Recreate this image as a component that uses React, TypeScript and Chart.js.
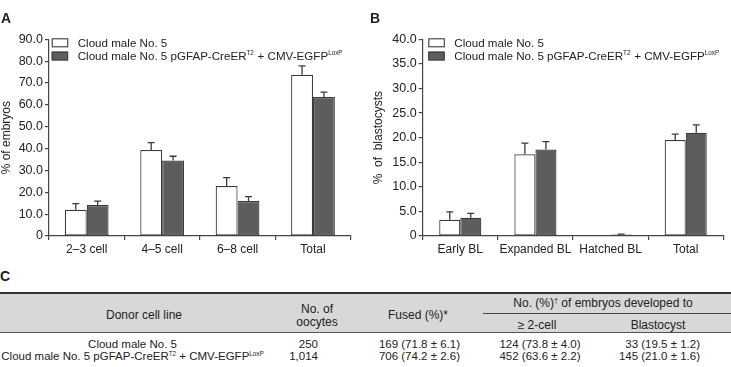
import React, { useEffect, useRef } from "react";
import { Chart, registerables } from "chart.js";

Chart.register(...registerables);

const FONT = '"Liberation Sans", Arial, Helvetica, sans-serif';
const INK = "#222222";
const AXIS = "#454545";
const OPEN_FILL = "#ffffff";
const DARK_FILL = "#5d5d5d";
const BAR_EDGE = "#3a3a3a";
const HEADER_BG = "#d8d8d8";

// ---- Panel A: developmental stage reached (% of embryos) ----
const stagesA = ["2–3 cell", "4–5 cell", "6–8 cell", "Total"];
const controlA = [12.0, 39.3, 22.9, 73.8];
const controlErrA = [2.8, 3.4, 3.8, 4.0];
const transgenicA = [14.2, 34.5, 16.0, 63.6];
const transgenicErrA = [1.8, 2.0, 2.0, 2.2];
const yTicksA = ["0", "10.0", "20.0", "30.0", "40.0", "50.0", "60.0", "70.0", "80.0", "90.0"];

// ---- Panel B: blastocyst stage (% of blastocysts) ----
const stagesB = ["Early BL", "Expanded BL", "Hatched BL", "Total"];
const controlB = [3.3, 16.6, 0, 19.5];
const controlErrB = [1.6, 2.3, 0, 1.2];
const transgenicB = [3.7, 17.6, 0.3, 21.0];
const transgenicErrB = [0.9, 1.6, 0.1, 1.6];
const yTicksB = ["0", "5.0", "10.0", "15.0", "20.0", "25.0", "30.0", "35.0", "40.0"];

// ---- Series names (with superscripts) ----
type Seg = { text: string; sup?: boolean };
const controlName: Seg[] = [{ text: "Cloud male No. 5" }];
const transgenicName: Seg[] = [
  { text: "Cloud male No. 5 pGFAP-CreER" },
  { text: "T2", sup: true },
  { text: " + CMV-EGFP" },
  { text: "LoxP", sup: true },
];
const plainName = (segs: Seg[]) => segs.map((s) => s.text).join("");

// ---- Panel C: table ----
const donorLines: Seg[][] = [controlName, transgenicName];
const oocytes = ["250", "1,014"];
const fused = ["169 (71.8 ± 6.1)", "706 (74.2 ± 2.6)"];
const twoCell = ["124 (73.8 ± 4.0)", "452 (63.6 ± 2.2)"];
const blastocysts = ["33 (19.5 ± 1.2)", "145 (21.0 ± 1.6)"];

// Upper half error bars drawn from the bar values
const errorBarPlugin = {
  id: "errorBars",
  afterDatasetsDraw(chart: any, _args: any, opts: any) {
    const { ctx } = chart;
    const yScale = chart.scales.y;
    const errs: number[][] = opts.errors || [];
    chart.data.datasets.forEach((ds: any, di: number) => {
      const meta = chart.getDatasetMeta(di);
      meta.data.forEach((bar: any, i: number) => {
        const v = ds.data[i];
        const e = errs[di] ? errs[di][i] : 0;
        if (!e) return;
        const x = bar.x;
        const yBar = yScale.getPixelForValue(v);
        const yTop = yScale.getPixelForValue(v + e);
        ctx.save();
        ctx.strokeStyle = BAR_EDGE;
        ctx.lineWidth = 1.3;
        ctx.beginPath();
        ctx.moveTo(x, yBar);
        ctx.lineTo(x, yTop);
        ctx.moveTo(x - 3.5, yTop);
        ctx.lineTo(x + 3.5, yTop);
        ctx.stroke();
        ctx.restore();
      });
    });
  },
};

// Legend with superscript support, placed in the top-left of the plot area
const segLegendPlugin = {
  id: "segLegend",
  afterDraw(chart: any, _args: any, opts: any) {
    const { ctx, chartArea } = chart;
    const x0 = chartArea.left + opts.dx;
    let y = chartArea.top + opts.dy;
    chart.data.datasets.forEach((ds: any, di: number) => {
      const segs: Seg[] = opts.names[di];
      ctx.save();
      ctx.fillStyle = ds.backgroundColor;
      ctx.fillRect(x0, y, 16, 8.5);
      ctx.strokeStyle = BAR_EDGE;
      ctx.lineWidth = 1.1;
      ctx.strokeRect(x0 + 0.5, y + 0.5, 15.5, 8);
      const base = y + 4.25 + 4.2;
      let tx = x0 + 26;
      ctx.fillStyle = INK;
      ctx.textBaseline = "alphabetic";
      ctx.textAlign = "left";
      segs.forEach((s) => {
        ctx.font = s.sup ? `6.3px ${FONT}` : `11.6px ${FONT}`;
        ctx.fillText(s.text, tx, s.sup ? base - 5.5 : base);
        tx += ctx.measureText(s.text).width + (s.sup ? 0.5 : 0);
      });
      ctx.restore();
      y += 13.3;
    });
  },
};

function makeConfig(p: {
  labels: string[];
  control: number[];
  transgenic: number[];
  errs: number[][];
  max: number;
  step: number;
  ticks: string[];
  title: string;
  axisWidth: number;
  padRight: number;
  catPct: number;
  legendDx: number;
  titlePad: number;
}): any {
  return {
    type: "bar",
    data: {
      labels: p.labels,
      datasets: [
        {
          label: plainName(controlName),
          data: p.control,
          backgroundColor: OPEN_FILL,
          borderColor: BAR_EDGE,
          borderWidth: 1.2,
          borderSkipped: false,
          categoryPercentage: p.catPct,
          barPercentage: 1,
        },
        {
          label: plainName(transgenicName),
          data: p.transgenic,
          backgroundColor: DARK_FILL,
          borderColor: BAR_EDGE,
          borderWidth: 1.2,
          borderSkipped: false,
          categoryPercentage: p.catPct,
          barPercentage: 1,
        },
      ],
    },
    options: {
      responsive: false,
      animation: false,
      devicePixelRatio: 1,
      layout: { padding: { top: 39.3, right: p.padRight, bottom: 0, left: 0 } },
      font: { family: FONT },
      plugins: {
        legend: { display: false },
        tooltip: { enabled: false },
        errorBars: { errors: p.errs },
        segLegend: { names: [controlName, transgenicName], dx: p.legendDx, dy: -1 },
      },
      scales: {
        x: {
          offset: true,
          grid: { offset: true, drawOnChartArea: false, tickLength: 4, color: AXIS, lineWidth: 1.2 },
          border: { color: AXIS, width: 1.2 },
          ticks: { color: INK, font: { family: FONT, size: 12 }, padding: 2, maxRotation: 0, autoSkip: false },
          afterFit: (s: any) => {
            s.height = 26;
          },
        },
        y: {
          min: 0,
          max: p.max,
          ticks: {
            stepSize: p.step,
            color: INK,
            font: { family: FONT, size: 12.5 },
            padding: 2,
            callback: (_v: any, i: number) => p.ticks[i],
          },
          grid: { drawOnChartArea: false, tickLength: 4, color: AXIS, lineWidth: 1.2 },
          border: { color: AXIS, width: 1.2 },
          title: {
            display: true,
            text: p.title,
            color: INK,
            font: { family: FONT, size: 12 },
            padding: { top: p.titlePad, bottom: 0 },
          },
          afterFit: (s: any) => {
            s.width = p.axisWidth;
          },
        },
      },
    },
    plugins: [errorBarPlugin, segLegendPlugin],
  };
}

function Txt(props: {
  x: number;
  y: number;
  size?: number;
  align?: "left" | "center" | "right";
  bold?: boolean;
  children: React.ReactNode;
}) {
  const size = props.size ?? 11.5;
  const align = props.align ?? "center";
  const top = props.y - 0.4885 * size;
  const style: React.CSSProperties = {
    position: "absolute",
    top,
    fontSize: size,
    lineHeight: `${size}px`,
    fontFamily: FONT,
    fontWeight: props.bold ? "bold" : "normal",
    color: INK,
    whiteSpace: "nowrap",
  };
  if (align === "left") style.left = props.x;
  else if (align === "right") style.right = 731 - props.x;
  else {
    style.left = props.x;
    style.transform = "translateX(-50%)";
  }
  return <div style={style}>{props.children}</div>;
}

function SegText({ segs }: { segs: Seg[] }) {
  return (
    <>
      {segs.map((s, i) =>
        s.sup ? (
          <sup key={i} style={{ fontSize: "0.55em", verticalAlign: "0.7em", lineHeight: 0 }}>
            {s.text}
          </sup>
        ) : (
          <span key={i}>{s.text}</span>
        )
      )}
    </>
  );
}

export default function App() {
  const refA = useRef<HTMLCanvasElement>(null);
  const refB = useRef<HTMLCanvasElement>(null);

  useEffect(() => {
    const chartA = new Chart(
      refA.current as HTMLCanvasElement,
      makeConfig({
        labels: stagesA,
        control: controlA,
        transgenic: transgenicA,
        errs: [controlErrA, transgenicErrA],
        max: 90,
        step: 10,
        ticks: yTicksA,
        title: "% of embryos",
        axisWidth: 49,
        padRight: 14.3,
        catPct: 0.58,
        legendDx: 2.7,
        titlePad: -1,
      })
    );
    const chartB = new Chart(
      refB.current as HTMLCanvasElement,
      makeConfig({
        labels: stagesB,
        control: controlB,
        transgenic: transgenicB,
        errs: [controlErrB, transgenicErrB],
        max: 40,
        step: 5,
        ticks: yTicksB,
        title: "%  of  blastocysts",
        axisWidth: 52.7,
        padRight: 7.7,
        catPct: 0.56,
        legendDx: 5.6,
        titlePad: 1,
      })
    );
    return () => {
      chartA.destroy();
      chartB.destroy();
    };
  }, []);

  const rowY = [345, 357];

  return (
    <div
      style={{
        position: "absolute",
        left: 0,
        top: 0,
        width: 731,
        height: 367,
        background: "#ffffff",
        overflow: "hidden",
        fontFamily: FONT,
      }}
    >
      <canvas ref={refA} width={365} height={262} style={{ position: "absolute", left: 0, top: 0 }} />
      <canvas ref={refB} width={361} height={262} style={{ position: "absolute", left: 370, top: 0 }} />

      <Txt x={1} y={18.3} size={14} bold align="left">A</Txt>
      <Txt x={370} y={18.3} size={14} bold align="left">B</Txt>
      <Txt x={0} y={275.5} size={14} bold align="left">C</Txt>

      {/* table rules and header shading */}
      <div style={{ position: "absolute", left: 0, top: 293, width: 731, height: 39, background: HEADER_BG }} />
      <div style={{ position: "absolute", left: 0, top: 291.5, width: 731, height: 2, background: "#333" }} />
      <div style={{ position: "absolute", left: 0, top: 332, width: 731, height: 1, background: "#555" }} />
      <div style={{ position: "absolute", left: 483, top: 313, width: 248, height: 1, background: "#444" }} />

      <Txt x={144} y={315} size={12}>Donor cell line</Txt>
      <Txt x={317} y={308.5} size={12}>No. of</Txt>
      <Txt x={317} y={322} size={12}>oocytes</Txt>
      <Txt x={418} y={314.5} size={12}>Fused (%)*</Txt>
      <Txt x={603} y={302.5} size={12}>
        No. (%)<sup style={{ fontSize: "0.6em", verticalAlign: "0.6em", lineHeight: 0 }}>†</sup> of embryos developed to
      </Txt>
      <Txt x={537} y={325} size={12}>≥ 2-cell</Txt>
      <Txt x={658} y={325} size={12}>Blastocyst</Txt>

      {donorLines.map((segs, i) => (
        <Txt key={`d${i}`} x={132.5} y={rowY[i]}>
          <SegText segs={segs} />
        </Txt>
      ))}
      {oocytes.map((t, i) => (
        <Txt key={`o${i}`} x={318} y={rowY[i]} align="right">{t}</Txt>
      ))}
      {fused.map((t, i) => (
        <Txt key={`f${i}`} x={460} y={rowY[i]} align="right">{t}</Txt>
      ))}
      {twoCell.map((t, i) => (
        <Txt key={`t${i}`} x={540} y={rowY[i]}>{t}</Txt>
      ))}
      {blastocysts.map((t, i) => (
        <Txt key={`b${i}`} x={700} y={rowY[i]} align="right">{t}</Txt>
      ))}
    </div>
  );
}
